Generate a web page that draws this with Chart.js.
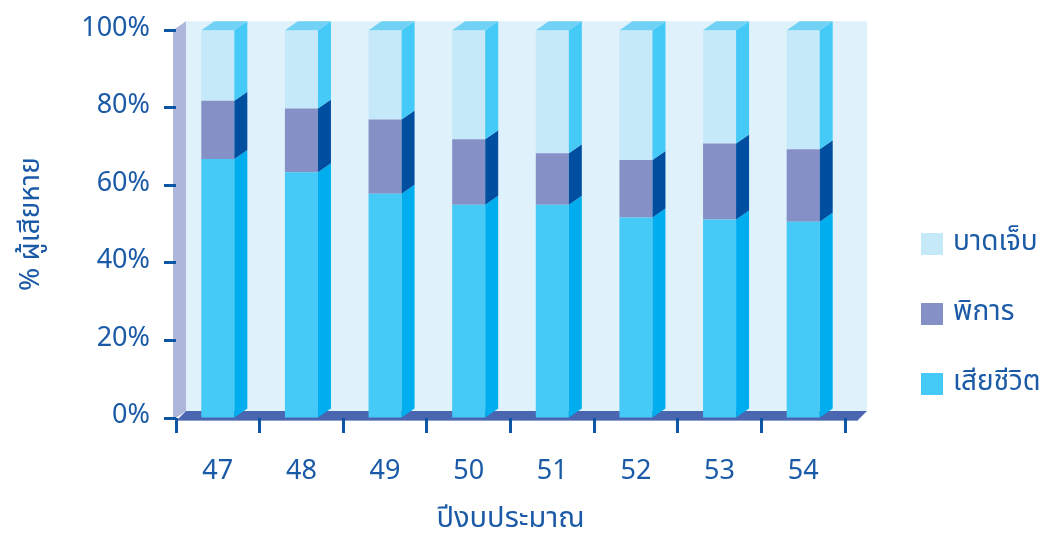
<!DOCTYPE html>
<html>
<head>
<meta charset="utf-8">
<script src="https://cdn.jsdelivr.net/npm/chart.js@4/dist/chart.umd.min.js"></script>
<style>
  html, body { margin: 0; padding: 0; background: #fff; }
  #wrap { width: 1042px; height: 536px; }
</style>
</head>
<body>
<div id="wrap"><canvas id="chart" width="1042" height="536"></canvas></div>
<script>
// data (percent of victims per budget year)
const years = ['47', '48', '49', '50', '51', '52', '53', '54'];
const deaths = [66.8, 63.4, 57.8, 55.0, 55.0, 51.7, 51.2, 50.6];
const disabled = [15.0, 16.4, 19.2, 16.9, 13.3, 14.8, 19.6, 18.7];
const injured = [18.2, 20.2, 23.0, 28.1, 31.7, 33.5, 29.2, 30.7];
const seriesNames = ['เสียชีวิต', 'พิการ', 'บาดเจ็บ'];
const yTicks = [0, 20, 40, 60, 80, 100];

// colours: front face / side face
const frontCol = ['#45c9f6', '#8591c6', '#c6e9f9'];
const sideCol = ['#00aeef', '#004ea0', '#45c9f6'];
const topCol = '#72d2f6';
const textCol = '#1b5aa7';
const tickCol = '#0e55a4';
const FONT = "'Noto Sans Thai', 'Noto Sans', 'DejaVu Sans', sans-serif";

// walls and floor, drawn before everything else
const walls = {
  id: 'walls',
  beforeDraw(chart) {
    const {ctx, chartArea: a} = chart;
    ctx.save();
    // back wall
    ctx.fillStyle = '#dff1fb';
    ctx.fillRect(a.left + 10, a.top - 9, a.right + 22 - (a.left + 10), a.bottom - 7 - (a.top - 9));
    // left wall
    ctx.fillStyle = '#aeb6dc';
    ctx.beginPath();
    ctx.moveTo(a.left - 3, a.top);
    ctx.lineTo(a.left + 10, a.top - 9);
    ctx.lineTo(a.left + 10, a.bottom - 7);
    ctx.lineTo(a.left - 3, a.bottom + 2);
    ctx.closePath();
    ctx.fill();
    // floor
    ctx.fillStyle = '#4a66b0';
    ctx.beginPath();
    ctx.moveTo(a.left + 1, a.bottom + 2);
    ctx.lineTo(a.right + 13, a.bottom + 2);
    ctx.lineTo(a.right + 22, a.bottom - 7);
    ctx.lineTo(a.left + 10, a.bottom - 7);
    ctx.closePath();
    ctx.fill();
    ctx.strokeStyle = '#8d9fd2';
    ctx.lineWidth = 1;
    ctx.beginPath();
    ctx.moveTo(a.left + 1, a.bottom + 2.5);
    ctx.lineTo(a.right + 13, a.bottom + 2.5);
    ctx.stroke();
    ctx.restore();
  }
};

// side and top faces of the bars
const depth = {
  id: 'depth',
  afterDatasetsDraw(chart) {
    const ctx = chart.ctx;
    const dx = 13, dy = 9;
    const n = chart.data.datasets.length;
    ctx.save();
    chart.data.datasets.forEach((ds, di) => {
      const meta = chart.getDatasetMeta(di);
      meta.data.forEach(bar => {
        const p = bar.getProps(['x', 'y', 'base', 'width'], true);
        const l = p.x - p.width / 2, r = p.x + p.width / 2;
        const t = Math.min(p.y, p.base), b = Math.max(p.y, p.base);
        ctx.fillStyle = sideCol[di];
        ctx.beginPath();
        ctx.moveTo(r, t);
        ctx.lineTo(r + dx, t - dy);
        ctx.lineTo(r + dx, b - dy);
        ctx.lineTo(r, b);
        ctx.closePath();
        ctx.fill();
        if (di === n - 1) {
          ctx.fillStyle = topCol;
          ctx.beginPath();
          ctx.moveTo(l, t);
          ctx.lineTo(l + dx, t - dy);
          ctx.lineTo(r + dx, t - dy);
          ctx.lineTo(r, t);
          ctx.closePath();
          ctx.fill();
        }
      });
    });
    ctx.restore();
  }
};

// legend on the right, top entry first
const sideLegend = {
  id: 'sideLegend',
  afterDraw(chart) {
    const ctx = chart.ctx;
    const dsets = chart.data.datasets.slice().reverse();
    ctx.save();
    ctx.font = '28px ' + FONT;
    ctx.textBaseline = 'middle';
    ctx.textAlign = 'left';
    dsets.forEach((ds, i) => {
      const cy = 244 + i * 70;
      ctx.fillStyle = ds.backgroundColor;
      ctx.fillRect(921, cy - 11, 22, 22);
      ctx.fillStyle = textCol;
      ctx.fillText(ds.label, 953, cy);
    });
    ctx.restore();
  }
};

const ctx = document.getElementById('chart');
new Chart(ctx, {
  type: 'bar',
  data: {
    labels: years,
    datasets: [
      { label: seriesNames[0], data: deaths, backgroundColor: frontCol[0] },
      { label: seriesNames[1], data: disabled, backgroundColor: frontCol[1] },
      { label: seriesNames[2], data: injured, backgroundColor: frontCol[2] }
    ]
  },
  options: {
    responsive: false,
    animation: false,
    layout: { padding: { top: 27, right: 197, left: 0, bottom: 0 } },
    datasets: {
      bar: { barPercentage: 0.395, categoryPercentage: 1, borderWidth: 0 }
    },
    plugins: {
      legend: { display: false },
      tooltip: { enabled: false }
    },
    scales: {
      x: {
        stacked: true,
        border: { display: false },
        grid: { drawOnChartArea: false, drawTicks: true, tickLength: 15, tickWidth: 3, tickColor: tickCol, offset: true },
        ticks: { color: textCol, padding: 24, font: { family: FONT, size: 27 } },
        title: { display: true, text: 'ปีงบประมาณ', color: textCol, padding: { top: 0, bottom: -3 }, font: { family: FONT, size: 29 } },
        afterFit(scale) { scale.height = 118; }
      },
      y: {
        stacked: true,
        min: 0,
        max: 100,
        border: { display: false },
        grid: { drawOnChartArea: false, drawTicks: true, tickLength: 12, tickWidth: 3, tickColor: tickCol },
        afterBuildTicks(scale) { scale.ticks = yTicks.map(v => ({ value: v })); },
        ticks: { color: textCol, padding: 14, font: { family: FONT, size: 27 }, callback: v => v + '%' },
        title: { display: true, text: '% ผู้เสียหาย', color: textCol, padding: { top: 17, bottom: 0 }, font: { family: FONT, size: 28 } },
        afterFit(scale) { scale.width = 176; }
      }
    }
  },
  plugins: [walls, depth, sideLegend]
});
</script>
</body>
</html>
